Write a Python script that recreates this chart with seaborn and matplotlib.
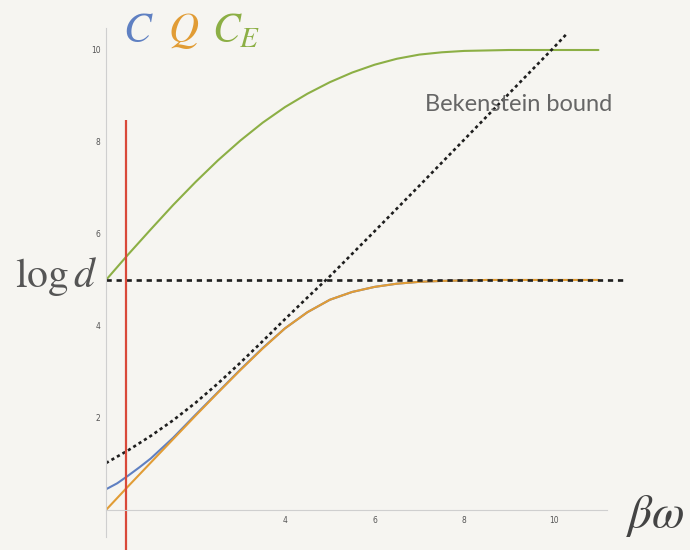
import matplotlib
matplotlib.use("Agg")
import matplotlib.pyplot as plt
import seaborn as sns

# classical capacity C
c_x = [0, 0.25, 0.5, 0.75, 1, 1.5, 2, 2.5, 3, 3.5, 4, 4.5, 5, 5.5, 6, 6.5, 7, 7.5, 8, 8.5, 9, 10, 11]
cap_C = [0.45, 0.58, 0.75, 0.93, 1.12, 1.57, 2.07, 2.56, 3.05, 3.52, 3.95, 4.30, 4.57, 4.74, 4.85, 4.92, 4.96, 4.98, 4.99, 5.0, 5.0, 5.0, 5.0]

# quantum capacity Q
q_x = [0, 0.5, 1, 1.5, 2, 2.5, 3, 3.5, 4, 4.5, 5, 5.5, 6, 6.5, 7, 7.5, 8, 8.5, 9, 10, 11]
cap_Q = [0.0, 0.52, 1.03, 1.54, 2.05, 2.55, 3.04, 3.51, 3.95, 4.30, 4.57, 4.74, 4.85, 4.92, 4.96, 4.98, 4.99, 5.0, 5.0, 5.0, 5.0]

# entanglement-assisted capacity C_E
ce_x = [0, 0.5, 1, 1.5, 2, 2.5, 3, 3.5, 4, 4.5, 5, 5.5, 6, 6.5, 7, 7.5, 8, 8.5, 9, 10, 11]
cap_CE = [5.0, 5.56, 6.10, 6.63, 7.13, 7.60, 8.03, 8.42, 8.76, 9.05, 9.30, 9.51, 9.68, 9.81, 9.90, 9.95, 9.98, 9.99, 10.0, 10.0, 10.0]

# Bekenstein bound
bek_x = [0, 0.5, 1, 1.5, 2, 2.5, 3, 3.5, 4, 4.5, 5, 6, 7, 8, 9, 10, 10.31]
bek_y = [1.02, 1.30, 1.61, 1.95, 2.33, 2.75, 3.20, 3.67, 4.15, 4.62, 5.08, 6.06, 7.05, 8.05, 9.05, 10.05, 10.37]

log_d = 5.0
cutoff = 0.44
cutoff_top = 8.47

x_ticks = [4, 6, 8, 10]
y_ticks = [2, 4, 6, 8, 10]

BG = "#f6f5f1"
BLUE = "#5f80c2"
ORANGE = "#e19c35"
GREEN = "#8caf45"
RED = "#d9493a"
INK = "#1e1e1e"

sns.set_theme(style="white", rc={
    "figure.facecolor": BG,
    "axes.facecolor": BG,
    "savefig.facecolor": BG,
})
plt.rcParams["mathtext.fontset"] = "stix"
plt.rcParams["font.family"] = ["DejaVu Sans"]

fig = plt.figure(figsize=(6.9, 5.5), dpi=100)
ax = fig.add_axes([106 / 690, 0.0, 526 / 690, 532.2 / 550])
ax.set_xlim(0, 11.75)
ax.set_ylim(-0.87, 10.7)

sns.lineplot(x=c_x, y=cap_C, ax=ax, color=BLUE, lw=1.5)
sns.lineplot(x=q_x, y=cap_Q, ax=ax, color=ORANGE, lw=1.5)
sns.lineplot(x=ce_x, y=cap_CE, ax=ax, color=GREEN, lw=1.5)
sns.lineplot(x=bek_x, y=bek_y, ax=ax, color=INK, lw=1.9, linestyle=(0, (1.2, 1.2)))
ax.hlines(log_d, 0, 11.6, colors=INK, lw=1.9, linestyles=[(0, (2.0, 1.8))])
ax.vlines(cutoff, -0.87, cutoff_top, colors=RED, lw=1.6, clip_on=False)

# axes crossing at the origin
for side in ("top", "right"):
    ax.spines[side].set_visible(False)
ax.spines["left"].set_position(("data", 0))
ax.spines["bottom"].set_position(("data", 0))
ax.spines["left"].set_bounds(-0.58, 10.48)
ax.spines["bottom"].set_bounds(0, 11.2)
for side in ("left", "bottom"):
    ax.spines[side].set_color("#cfcfcf")
    ax.spines[side].set_linewidth(0.8)

ax.set_xticks(x_ticks)
ax.set_yticks(y_ticks)
ax.set_xticklabels([str(v) for v in x_ticks])
ax.set_yticklabels([str(v) for v in y_ticks])
ax.tick_params(axis="both", length=2, width=0.6, color="#bdbdbd",
               labelsize=5.5, labelcolor="#555555", pad=2)
ax.set_xlabel("")
ax.set_ylabel("")

ax.text(7.12, 8.67, "Bekenstein bound", fontsize=17, color="#666666",
        family="Lato", ha="left", va="baseline")

ax.text(-0.2, 4.85, r"$\log d$", fontsize=30, color="#555555",
        ha="right", va="baseline", clip_on=False)
ax.text(11.62, -0.37, r"$\beta\omega$", fontsize=34, color="#444444",
        ha="left", va="baseline", clip_on=False)

ax.text(0.38, 10.17, r"$C$", fontsize=30, color=BLUE, ha="left", va="baseline", clip_on=False)
ax.text(1.38, 10.17, r"$Q$", fontsize=30, color=ORANGE, ha="left", va="baseline", clip_on=False)
ax.text(2.37, 10.17, r"$C_E$", fontsize=30, color=GREEN, ha="left", va="baseline", clip_on=False)

fig.savefig("out.png", dpi=100)
